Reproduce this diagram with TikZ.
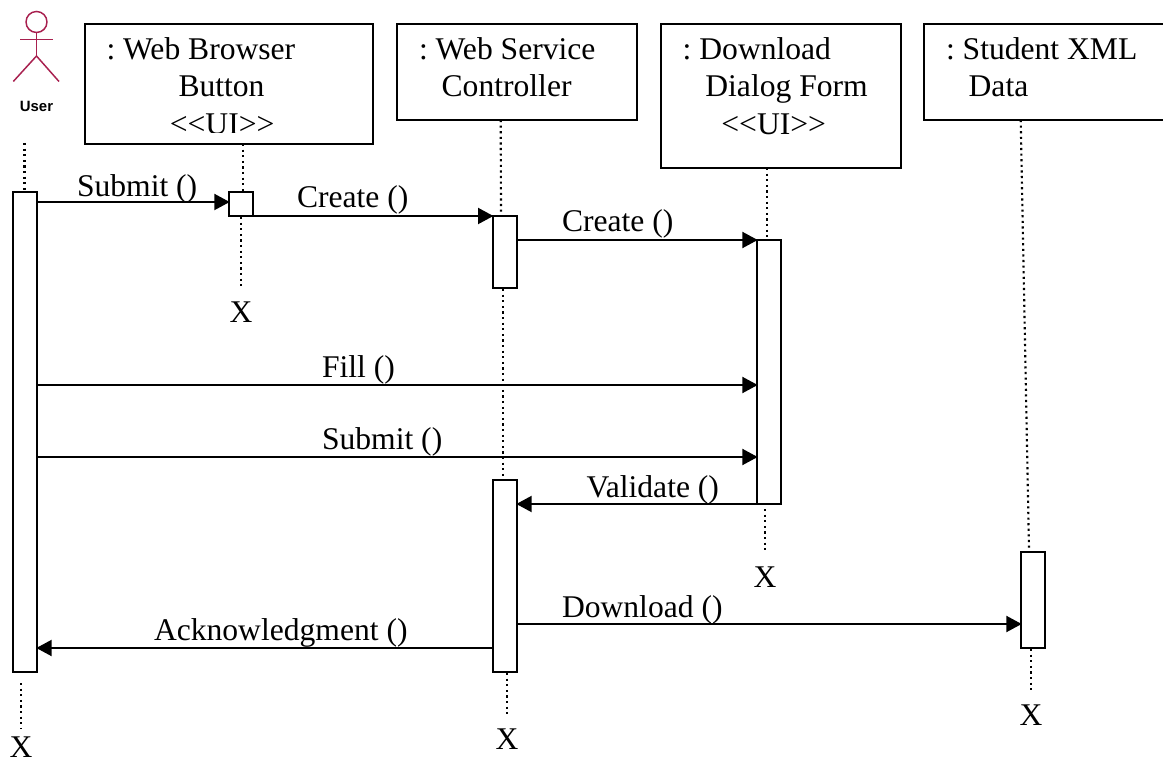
\documentclass[tikz,border=0pt]{standalone}
\usepackage{fontspec}
\setmainfont{Liberation Serif}
\newfontfamily\actorfont{Liberation Sans}
\usetikzlibrary{fit,arrows.meta}
\frenchspacing
\tikzset{
  objbox/.style={draw=black,line width=1.5pt,fill=white,inner sep=0pt,outer sep=0pt},
  actbar/.style={draw=black,line width=1.5pt,fill=white,inner sep=0pt,outer sep=0pt},
  objlabel/.style={anchor=north west,inner sep=0pt,outer sep=0pt,align=left,
    font=\fontsize{23.7pt}{28.1pt}\selectfont\frenchspacing,execute at begin node=\strut},
  txt/.style={anchor=base west,inner sep=0pt,outer sep=0pt,font=\fontsize{23.7pt}{28pt}\selectfont},
  xmark/.style={anchor=base,inner sep=0pt,outer sep=0pt,font=\fontsize{23.7pt}{28pt}\selectfont},
  msg/.style={line width=1.5pt,-{Triangle[length=11.5pt,width=12pt]},shorten >=-0.5pt},
  lifeline/.style={line width=1.6pt,dash pattern=on 1.6pt off 2.6pt},
  actorline/.style={draw=actorred,line width=1.1pt}
}
\definecolor{actorred}{HTML}{A8204F}
\begin{document}
\begin{tikzpicture}[x=0.75pt,y=-0.75pt]
\clip (0,0) rectangle (1163,762);
\fill[white] (0,0) rectangle (1163,762);

% actor
\node[circle,actorline,minimum size=15.75pt,inner sep=0pt,outer sep=0pt] (head) at (36.5,22) {};
\coordinate (armL) at (20,39.7);
\coordinate (armR) at (52.7,39.7);
\coordinate (hip) at (36.5,56);
\coordinate (legL) at (13.3,81.5);
\coordinate (legR) at (59,81.5);
\draw[actorline] (armL) -- (armR);
\draw[actorline] (head.south) -- (hip);
\draw[actorline] (legL) -- (hip) -- (legR);
\node[anchor=base,inner sep=0pt,font=\actorfont\bfseries\fontsize{11.2pt}{13pt}\selectfont] (user) at (36.5,112) {User};

% lifeline end points
\coordinate (uTop) at (24.5,143);
\coordinate (uTopEnd) at (24.5,190);
\coordinate (uEndA) at (20.7,683);
\coordinate (uEndB) at (20.7,728);
\coordinate (aTopA) at (243,144);
\coordinate (aTopB) at (243,191);
\coordinate (aEndA) at (240.7,217);
\coordinate (aEndB) at (240.7,287);
\coordinate (bTopA) at (500.7,120);
\coordinate (bTopB) at (501,215);
\coordinate (bMidA) at (503,289);
\coordinate (bMidB) at (503,477);
\coordinate (bEndA) at (506.7,673);
\coordinate (bEndB) at (506.7,716);
\coordinate (cTopA) at (766.7,168);
\coordinate (cTopB) at (766.7,239);
\coordinate (cEndA) at (765,509);
\coordinate (cEndB) at (765,553);
\coordinate (dTopA) at (1020.7,120);
\coordinate (dTopB) at (1029,549);
\coordinate (dEndA) at (1031,649);
\coordinate (dEndB) at (1031,692);

\draw[lifeline] (uTop) -- (uTopEnd);
\draw[lifeline] (uEndA) -- (uEndB);
\draw[lifeline] (aTopA) -- (aTopB);
\draw[lifeline] (aEndA) -- (aEndB);
\draw[lifeline] (bTopA) -- (bTopB);
\draw[lifeline] (bMidA) -- (bMidB);
\draw[lifeline] (bEndA) -- (bEndB);
\draw[lifeline] (cTopA) -- (cTopB);
\draw[lifeline] (cEndA) -- (cEndB);
\draw[lifeline] (dTopA) -- (dTopB);
\draw[lifeline] (dEndA) -- (dEndB);

% object boxes
\node[objbox,fit={(85,24)(372.7,144)}] (boxA) {};
\node[objbox,fit={(396.7,24)(636.7,120)}] (boxB) {};
\node[objbox,fit={(660.7,24)(901,168)}] (boxC) {};
\node[objbox,fit={(924.3,24)(1175,120)}] (boxD) {};

% activation bars
\node[actbar,fit={(13,192)(37,672)}] (barU) {};
\node[actbar,fit={(229,192)(253,216)}] (barA) {};
\node[actbar,fit={(492.7,216)(517,288)}] (barB) {};
\node[actbar,fit={(757,240)(781,504)}] (barC) {};
\node[actbar,fit={(492.7,480)(517,672)}] (barB2) {};
\node[actbar,fit={(1021,551.5)(1045,648)}] (barD) {};

% object labels
\begin{scope}
\clip (85,24) rectangle (372.7,133);
\node[objlabel] (lblA) at (106.5,37.4) {: Web Browser\\\hspace*{54pt}Button\\\hspace*{47.5pt}{<}{<}UI{>}{>}};
\end{scope}
\node[objlabel] (lblB) at (419,37.4) {: Web Service\\\hspace*{17pt}Controller};
\node[objlabel] (lblC) at (682.7,37.4) {: Download\\\hspace*{17pt}Dialog Form\\\hspace*{29pt}{<}{<}UI{>}{>}};
\node[objlabel] (lblD) at (946,37.4) {: Student XML\\\hspace*{17pt}Data};

% messages
\draw[msg] (barU.east |- 0,202) -- (barA.west |- 0,202);
\draw[msg] (barA.east |- 0,216) -- (barB.west |- 0,216);
\draw[msg] (barB.east |- 0,240) -- (barC.west |- 0,240);
\draw[msg] (barU.east |- 0,385) -- (barC.west |- 0,385);
\draw[msg] (barU.east |- 0,457) -- (barC.west |- 0,457);
\draw[msg] (barC.west |- 0,504) -- (barB2.east |- 0,504);
\draw[msg] (barB2.east |- 0,624) -- (barD.west |- 0,624);
\draw[msg] (barB2.west |- 0,648) -- (barU.east |- 0,648);

% message labels
\node[txt] (mA) at (77,197) {Submit ()};
\node[txt] (mB) at (297,208) {Create ()};
\node[txt] (mC) at (562,232) {Create ()};
\node[txt] (mD) at (322,378) {Fill ()};
\node[txt] (mE) at (322,450) {Submit ()};
\node[txt] (mF) at (586.5,497) {Validate ()};
\node[txt] (mG) at (562,617) {Download ()};
\node[txt] (mH) at (154,640) {Acknowledgment ()};

% destruction marks
\node[xmark] (xU) at (21,757) {X};
\node[xmark] (xA) at (241,323) {X};
\node[xmark] (xB) at (507,749) {X};
\node[xmark] (xC) at (765,587) {X};
\node[xmark] (xD) at (1031,725) {X};
\end{tikzpicture}
\end{document}
